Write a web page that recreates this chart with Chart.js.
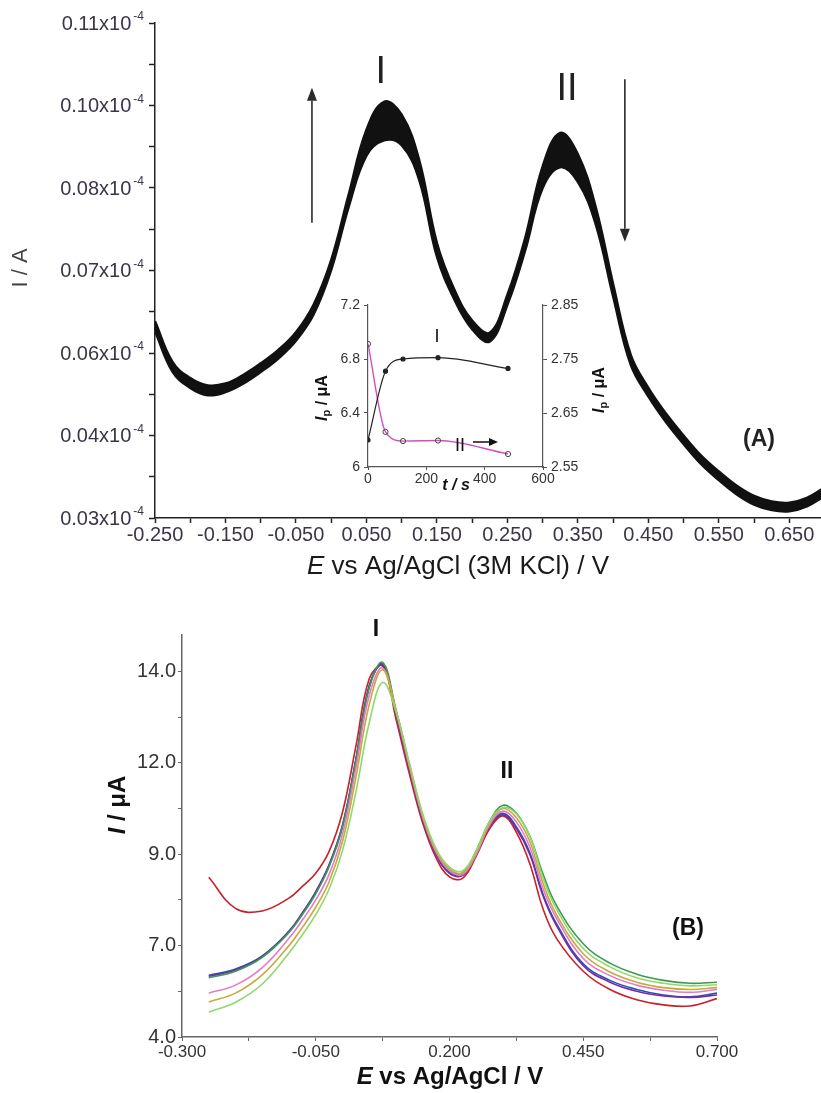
<!DOCTYPE html>
<html><head><meta charset="utf-8">
<script src="https://cdn.jsdelivr.net/npm/chart.js@4.4.1/dist/chart.umd.min.js"></script>
<style>
html,body{margin:0;padding:0;background:#fff;}
#wrap{position:relative;width:821px;height:1093px;overflow:hidden;background:#fff;}
canvas{position:absolute;}
#cA{left:0;top:0;}
#cIn{left:290px;top:290px;}
#cB{left:0;top:590px;}
</style></head><body>
<div id="wrap">
<canvas id="cA" width="821" height="600"></canvas>
<canvas id="cIn" width="330" height="220"></canvas>
<canvas id="cB" width="821" height="503"></canvas>
</div>
<script>
// ---------- Panel A data (current in units of 10^-4 A) ----------
const potentialA = [-0.25,-0.225,-0.20,-0.175,-0.15,-0.125,-0.10,-0.075,-0.05,-0.025,0.0,0.025,0.05,0.075,0.10,0.125,0.15,0.175,0.20,0.225,0.25,0.275,0.30,0.325,0.35,0.375,0.40,0.425,0.45,0.475,0.50,0.525,0.55,0.575,0.60,0.625,0.65,0.675,0.70];
const currentA_upper = [0.0622,0.0555,0.0529,0.0517,0.0520,0.0534,0.0553,0.0575,0.0604,0.0649,0.0722,0.0830,0.0935,0.0981,0.0960,0.0885,0.0750,0.0673,0.0623,0.0603,0.0665,0.0757,0.0875,0.0930,0.0895,0.0810,0.0683,0.0567,0.0513,0.0471,0.0435,0.0402,0.0376,0.0353,0.0336,0.0327,0.0325,0.0333,0.0350];
const currentA_lower = [0.0606,0.0539,0.0513,0.0501,0.0506,0.0520,0.0539,0.0561,0.0590,0.0633,0.0706,0.0810,0.0893,0.0918,0.0910,0.0853,0.0728,0.0657,0.0609,0.0589,0.0649,0.0737,0.0840,0.0874,0.0850,0.0782,0.0663,0.0551,0.0499,0.0457,0.0421,0.0388,0.0362,0.0339,0.0322,0.0313,0.0311,0.0319,0.0336];
const xTicksA = [-0.25,-0.20,-0.15,-0.10,-0.05,0.0,0.05,0.10,0.15,0.20,0.25,0.30,0.35,0.40,0.45,0.50,0.55,0.60,0.65];
const xTickLabelsA = ['-0.250','-0.150','-0.050','0.050','0.150','0.250','0.350','0.450','0.550','0.650'];
const yTicksA = [0.03,0.03675,0.0435,0.05025,0.057,0.06375,0.0705,0.07725,0.084,0.09075,0.0975,0.10425,0.111];
const yTickLabelsA = ['0.03','0.04','0.06','0.07','0.08','0.10','0.11'];

// ---------- Inset data ----------
const timeInset = [0,60,120,240,480];
const peakI_inset = [6.2,6.71,6.8,6.81,6.73];
const peakII_inset = [2.778,2.615,2.598,2.599,2.574];
const xTicksIn = [0,200,400,600];
const yTicksInL = [6,6.4,6.8,7.2];
const yTicksInR = [2.55,2.65,2.75,2.85];
const yTickLabelsInL = ['6','6.4','6.8','7.2'];
const yTickLabelsInR = ['2.55','2.65','2.75','2.85'];

// ---------- Panel B data (µA) ----------
const potentialB = [-0.25,-0.20,-0.15,-0.10,-0.075,-0.05,-0.025,0.0,0.025,0.05,0.075,0.10,0.125,0.15,0.175,0.20,0.225,0.25,0.275,0.30,0.325,0.35,0.375,0.40,0.45,0.50,0.55,0.60,0.65,0.70];
const scanRed = [8.37,7.52,7.45,7.80,8.12,8.48,9.08,10.15,11.95,13.8,14.15,12.7,11.2,9.85,8.9,8.38,8.35,8.95,9.7,10.05,9.6,8.75,7.5,6.7,5.8,5.3,5.02,4.88,4.85,5.05];
const scanBlue = [5.69,5.86,6.22,6.90,7.40,7.98,8.72,9.80,11.6,13.6,14.2,12.85,11.35,9.95,9.0,8.5,8.45,9.05,9.8,10.12,9.75,9.05,7.9,7.1,6.0,5.55,5.3,5.15,5.1,5.2];
const scanGreen = [5.62,5.80,6.18,6.86,7.35,7.92,8.66,9.74,11.55,13.55,14.25,12.95,11.45,10.05,9.1,8.55,8.5,9.1,9.9,10.34,10.12,9.5,8.45,7.6,6.55,6.02,5.72,5.55,5.47,5.5];
const scanPurple = [5.66,5.83,6.20,6.88,7.38,7.96,8.70,9.77,11.58,13.62,14.18,12.85,11.35,9.95,9.0,8.48,8.42,9.0,9.75,10.08,9.7,9.0,7.85,7.05,5.95,5.5,5.25,5.12,5.08,5.15];
const scanMagenta = [5.20,5.42,5.90,6.70,7.20,7.75,8.45,9.55,11.35,13.35,14.1,12.9,11.4,10.0,9.05,8.55,8.45,9.0,9.8,10.18,9.88,9.2,8.05,7.25,6.15,5.68,5.42,5.28,5.22,5.3];
const scanOlive = [4.96,5.20,5.70,6.50,7.00,7.55,8.25,9.35,11.1,13.1,14.05,12.95,11.45,10.05,9.1,8.6,8.5,9.05,9.85,10.25,10.0,9.35,8.2,7.35,6.28,5.78,5.5,5.35,5.3,5.35];
const scanLightGreen = [4.68,4.95,5.45,6.30,6.80,7.35,8.05,9.1,10.7,12.6,13.7,12.9,11.5,10.1,9.15,8.65,8.55,9.1,9.9,10.28,10.1,9.5,8.35,7.5,6.42,5.92,5.62,5.47,5.4,5.43];
const xTicksB = [-0.3,-0.175,-0.05,0.075,0.2,0.325,0.45,0.575,0.7];
const xTickLabelsB = ['-0.300','-0.050','0.200','0.450','0.700'];
const yTicksB = [4,5.25,6.5,7.75,9,10.25,11.5,12.75,14];
const yTickLabelsB = ['4.0','7.0','9.0','12.0','14.0'];

// ---------- helpers ----------
const SANS = '"Liberation Sans", Arial, sans-serif';
Chart.defaults.font.family = SANS;
const pts = (xs, ys) => xs.map((x,i)=>({x, y: ys[i]}));
const toTicks = arr => arr.map(v => ({value:v}));

function drawRich(ctx, parts, cx, cy, angle, color){
  ctx.save();
  ctx.translate(cx, cy);
  if (angle) ctx.rotate(angle);
  ctx.fillStyle = color;
  ctx.textBaseline = 'middle';
  ctx.textAlign = 'left';
  let w = 0;
  parts.forEach(p => { ctx.font = p.font; p.w = ctx.measureText(p.text).width; w += p.w; });
  let x = -w/2;
  parts.forEach(p => { ctx.font = p.font; ctx.fillText(p.text, x, p.dy || 0); x += p.w; });
  ctx.restore();
}
function drawArrowV(ctx, x, yFrom, yTo, color, lw, hw, hl){
  ctx.save();
  ctx.strokeStyle = color; ctx.fillStyle = color; ctx.lineWidth = lw;
  const dir = Math.sign(yTo - yFrom);
  ctx.beginPath(); ctx.moveTo(x, yFrom); ctx.lineTo(x, yTo - dir*hl); ctx.stroke();
  ctx.beginPath(); ctx.moveTo(x, yTo); ctx.lineTo(x - hw, yTo - dir*hl); ctx.lineTo(x + hw, yTo - dir*hl); ctx.closePath(); ctx.fill();
  ctx.restore();
}
function drawArrowH(ctx, xFrom, xTo, y, color, lw, hw, hl){
  ctx.save();
  ctx.strokeStyle = color; ctx.fillStyle = color; ctx.lineWidth = lw;
  ctx.beginPath(); ctx.moveTo(xFrom, y); ctx.lineTo(xTo - hl, y); ctx.stroke();
  ctx.beginPath(); ctx.moveTo(xTo, y); ctx.lineTo(xTo - hl, y - hw); ctx.lineTo(xTo - hl, y + hw); ctx.closePath(); ctx.fill();
  ctx.restore();
}

// ---------- Panel A ----------
const annotA = {
  id: 'annotA',
  afterDraw(chart){
    const {ctx, chartArea, scales:{x, y}} = chart;
    ctx.save();
    yTickLabelsA.forEach((lab, i) => {
      const py = y.getPixelForValue(yTicksA[i*2]);
      ctx.fillStyle = '#3c3548';
      ctx.textBaseline = 'middle';
      ctx.textAlign = 'right';
      ctx.font = '12px ' + SANS;
      const sw = ctx.measureText('-4').width;
      const right = chartArea.left - 11;
      ctx.fillText('-4', right, py - 6);
      ctx.font = '20px ' + SANS;
      ctx.fillText(lab + 'x10', right - sw - 2, py + 1);
    });
    ctx.restore();
    drawRich(ctx, [{text:'I / A', font:'22px ' + SANS}], 21, 268, -Math.PI/2, '#444');
    drawRich(ctx, [
      {text:'E', font:'italic 26px ' + SANS},
      {text:' vs Ag/AgCl (3M KCl) / V', font:'26px ' + SANS}
    ], 458, 567, 0, '#1a1a1a');
    ctx.save();
    ctx.fillStyle = '#222'; ctx.textAlign = 'center'; ctx.textBaseline = 'middle';
    ctx.font = '38px ' + SANS;
    ctx.fillText('I', x.getPixelForValue(0.0705), 73);
    ctx.fillText('II', x.getPixelForValue(0.3345), 90);
    ctx.font = 'bold 23px ' + SANS;
    ctx.fillText('(A)', 759, 440);
    ctx.restore();
    drawArrowV(ctx, x.getPixelForValue(-0.0273), y.getPixelForValue(0.0783), y.getPixelForValue(0.1004), '#2a2a2a', 1.6, 5, 13);
    drawArrowV(ctx, x.getPixelForValue(0.4167), y.getPixelForValue(0.1018), y.getPixelForValue(0.0752), '#2a2a2a', 1.6, 5, 13);
  }
};

new Chart(document.getElementById('cA'), {
  type: 'line',
  data: {
    datasets: [
      {data: pts(potentialA, currentA_lower), borderColor:'#111', borderWidth:2.5, pointRadius:0, tension:0.4, fill:false},
      {data: pts(potentialA, currentA_upper), borderColor:'#111', borderWidth:2.5, pointRadius:0, tension:0.4, fill:'-1', backgroundColor:'#111'}
    ]
  },
  options: {
    responsive:false, animation:false, events:[],
    layout:{padding:{top:23, left:0, right:0, bottom:0}},
    plugins:{legend:{display:false}, tooltip:{enabled:false}},
    scales:{
      x:{type:'linear', min:-0.25, max:0.695,
        afterBuildTicks: s => { s.ticks = toTicks(xTicksA); },
        afterFit: s => { s.height = 82; },
        grid:{drawOnChartArea:false, drawTicks:true, tickLength:5, color:'#222', tickWidth:1.5},
        border:{display:true, color:'#222', width:1.5},
        ticks:{autoSkip:false, maxRotation:0, padding:0, color:'#3c3548', font:{size:20},
          callback:(v, i) => i % 2 === 0 ? xTickLabelsA[i/2] : ''}
      },
      y:{type:'linear', min:0.03, max:0.111,
        afterBuildTicks: s => { s.ticks = toTicks(yTicksA); },
        afterFit: s => { s.width = 155; },
        grid:{drawOnChartArea:false, drawTicks:true, tickLength:6, color:'#222', tickWidth:1.5},
        border:{display:true, color:'#222', width:1.5},
        ticks:{display:false}
      }
    }
  },
  plugins:[annotA]
});

// ---------- Inset ----------
const annotIn = {
  id:'annotIn',
  afterDraw(chart){
    const {ctx} = chart;
    const ipParts = () => [
      {text:'I', font:'bold italic 16px ' + SANS},
      {text:'p', font:'bold 11px ' + SANS, dy:4},
      {text:' / \u03BCA', font:'bold 16px ' + SANS}
    ];
    drawRich(ctx, ipParts(), 33, 108, -Math.PI/2, '#111');
    drawRich(ctx, ipParts(), 310, 100, -Math.PI/2, '#111');
    drawRich(ctx, [{text:'t / s', font:'bold italic 16px ' + SANS}], 166, 196, 0, '#111');
    ctx.save();
    ctx.fillStyle = '#111'; ctx.textAlign = 'center'; ctx.textBaseline = 'middle';
    ctx.font = '18px ' + SANS;
    ctx.fillText('I', 147, 47);
    ctx.fillText('II', 170, 156);
    ctx.restore();
    drawArrowH(ctx, 183, 208, 152, '#111', 1.5, 4, 9);
  }
};
new Chart(document.getElementById('cIn'), {
  type:'line',
  data:{
    datasets:[
      {data: pts(timeInset, peakI_inset), yAxisID:'y', borderColor:'#222', borderWidth:1.2, pointRadius:2, pointBackgroundColor:'#222', pointBorderColor:'#222', cubicInterpolationMode:'monotone'},
      {data: pts(timeInset, peakII_inset), yAxisID:'y2', borderColor:'#d24fc2', borderWidth:1.4, pointRadius:2.6, pointBackgroundColor:'rgba(255,255,255,0)', pointBorderColor:'#444', pointBorderWidth:1, cubicInterpolationMode:'monotone'}
    ]
  },
  options:{
    responsive:false, animation:false, events:[],
    layout:{padding:{top:15, left:0, right:0, bottom:0}},
    plugins:{legend:{display:false}, tooltip:{enabled:false}},
    scales:{
      x:{type:'linear', min:0, max:600,
        afterBuildTicks: s => { s.ticks = toTicks(xTicksIn); },
        afterFit: s => { s.height = 43; },
        grid:{drawOnChartArea:false, tickLength:3, color:'#555'},
        border:{display:true, color:'#555', width:1.2},
        ticks:{autoSkip:false, maxRotation:0, padding:1, color:'#333', font:{size:14}}
      },
      y:{type:'linear', position:'left', min:6, max:7.2,
        afterBuildTicks: s => { s.ticks = toTicks(yTicksInL); },
        afterFit: s => { s.width = 78; },
        grid:{drawOnChartArea:false, tickLength:4, color:'#555'},
        border:{display:true, color:'#555', width:1.2},
        ticks:{padding:4, color:'#333', font:{size:14}, callback:(v,i) => yTickLabelsInL[i]}
      },
      y2:{type:'linear', position:'right', min:2.55, max:2.85,
        afterBuildTicks: s => { s.ticks = toTicks(yTicksInR); },
        afterFit: s => { s.width = 77; },
        grid:{drawOnChartArea:false, tickLength:4, color:'#555'},
        border:{display:true, color:'#555', width:1.2},
        ticks:{padding:4, color:'#333', font:{size:14}, callback:(v,i) => yTickLabelsInR[i]}
      }
    }
  },
  plugins:[annotIn]
});

// ---------- Panel B ----------
const annotB = {
  id:'annotB',
  afterDraw(chart){
    const {ctx} = chart;
    drawRich(ctx, [
      {text:'E', font:'bold italic 24px ' + SANS},
      {text:' vs Ag/AgCl / V', font:'bold 24px ' + SANS}
    ], 450, 487, 0, '#111');
    drawRich(ctx, [
      {text:'I', font:'bold italic 24px ' + SANS},
      {text:' / \u03BCA', font:'bold 24px ' + SANS}
    ], 118, 215, -Math.PI/2, '#111');
    ctx.save();
    ctx.fillStyle = '#111'; ctx.textAlign = 'center'; ctx.textBaseline = 'middle';
    ctx.font = 'bold 23px ' + SANS;
    ctx.fillText('I', 376, 40);
    ctx.fillText('II', 507, 182);
    ctx.fillText('(B)', 688, 339);
    ctx.restore();
  }
};
const seriesB = [
  {d: scanLightGreen, c:'#8fd86c'},
  {d: scanOlive, c:'#c9a93a'},
  {d: scanMagenta, c:'#e27ad0'},
  {d: scanGreen, c:'#3c9a50'},
  {d: scanPurple, c:'#7a2c9c'},
  {d: scanBlue, c:'#2352c2'},
  {d: scanRed, c:'#c8202a'}
];
new Chart(document.getElementById('cB'), {
  type:'line',
  data:{ datasets: seriesB.map(s => ({data: pts(potentialB, s.d), borderColor:s.c, borderWidth:1.6, pointRadius:0, tension:0.4, fill:false})) },
  options:{
    responsive:false, animation:false, events:[],
    layout:{padding:{top:45, left:0, right:104, bottom:0}},
    plugins:{legend:{display:false}, tooltip:{enabled:false}},
    scales:{
      x:{type:'linear', min:-0.3, max:0.7,
        afterBuildTicks: s => { s.ticks = toTicks(xTicksB); },
        afterFit: s => { s.height = 56; },
        grid:{drawOnChartArea:false, tickLength:4, color:'#666'},
        border:{display:true, color:'#666', width:1.5},
        ticks:{autoSkip:false, maxRotation:0, padding:1, color:'#333', font:{size:17},
          callback:(v, i) => i % 2 === 0 ? xTickLabelsB[i/2] : ''}
      },
      y:{type:'linear', min:4, max:15,
        afterBuildTicks: s => { s.ticks = toTicks(yTicksB); },
        afterFit: s => { s.width = 182; },
        grid:{drawOnChartArea:false, tickLength:4, color:'#666'},
        border:{display:true, color:'#666', width:1.5},
        ticks:{padding:2, color:'#333', font:{size:20},
          callback:(v, i) => i % 2 === 0 ? yTickLabelsB[i/2] : ''}
      }
    }
  },
  plugins:[annotB]
});
</script>
</body></html>
